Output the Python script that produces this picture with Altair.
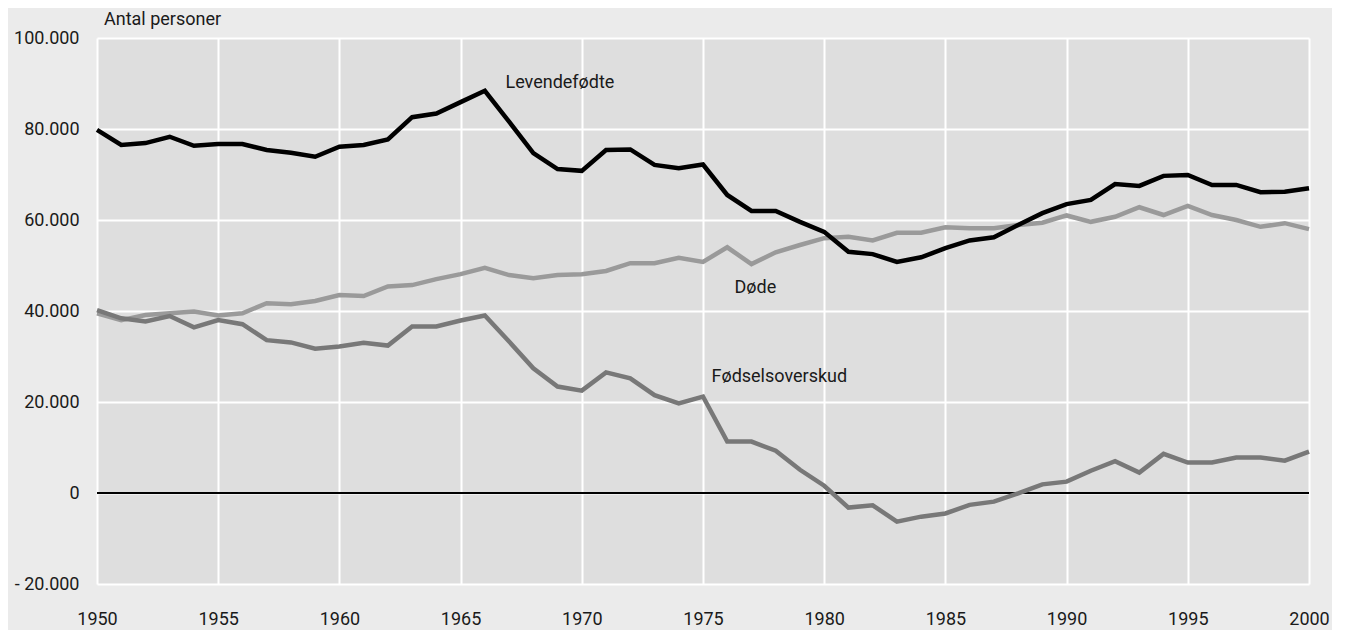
import altair as alt
import pandas as pd

years = list(range(1950, 2001))

levendefodte = [
    79.8, 76.5, 76.9, 78.3, 76.3, 76.7, 76.7, 75.4, 74.8, 73.9,
    76.1, 76.5, 77.7, 82.6, 83.4, 85.9, 88.4, 81.6, 74.7, 71.2,
    70.8, 75.4, 75.5, 72.1, 71.4, 72.2, 65.5, 62.0, 62.0, 59.6,
    57.4, 53.0, 52.5, 50.8, 51.8, 53.8, 55.5, 56.2, 58.9, 61.5,
    63.5, 64.4, 67.9, 67.5, 69.7, 69.9, 67.7, 67.7, 66.1, 66.2,
    67.0,
]
dode = [
    39.5, 38.0, 39.1, 39.5, 39.9, 39.0, 39.5, 41.7, 41.5, 42.2,
    43.5, 43.3, 45.4, 45.7, 47.0, 48.1, 49.5, 47.9, 47.2, 47.9,
    48.1, 48.8, 50.5, 50.5, 51.7, 50.8, 54.0, 50.3, 52.9, 54.5,
    56.0, 56.3, 55.5, 57.2, 57.2, 58.4, 58.2, 58.2, 58.9, 59.4,
    61.0, 59.6, 60.7, 62.8, 61.1, 63.1, 61.1, 60.0, 58.5, 59.3,
    58.0,
]
fodselsoverskud = [
    40.2, 38.4, 37.7, 38.9, 36.4, 38.0, 37.1, 33.6, 33.1, 31.7,
    32.2, 33.0, 32.4, 36.6, 36.6, 37.9, 39.0, 33.3, 27.4, 23.4,
    22.5, 26.5, 25.2, 21.5, 19.7, 21.2, 11.3, 11.3, 9.3, 5.1,
    1.6, -3.2, -2.7, -6.3, -5.2, -4.5, -2.6, -1.9, -0.1, 1.9,
    2.5, 4.9, 7.0, 4.5, 8.6, 6.7, 6.7, 7.8, 7.8, 7.1,
    9.1,
]

label_texts = ["Levendefødte", "Døde", "Fødselsoverskud"]
label_years = [1966.85, 1976.3, 1975.35]
label_values = [90.2, 45.0, 25.6]

y_ticks = [-20000, 0, 20000, 40000, 60000, 80000, 100000]
x_ticks = list(range(1950, 2001, 5))

FONT = "Roboto"

df = pd.DataFrame({
    "year": years * 3,
    "value": [v * 1000 for v in levendefodte + dode + fodselsoverskud],
    "serie": ["Levendefødte"] * 51 + ["Døde"] * 51 + ["Fødselsoverskud"] * 51,
})
lab = pd.DataFrame({
    "year": label_years,
    "value": [v * 1000 for v in label_values],
    "text": label_texts,
})

xscale = alt.Scale(domain=[1950, 2000], nice=False, zero=False)
yscale = alt.Scale(domain=[-20000, 100000], nice=False)

xaxis = alt.Axis(
    values=x_ticks, format="d", title=None, grid=True, gridColor="white",
    gridWidth=2, gridOpacity=1, domain=False, ticks=False, tickSize=0,
    labelPadding=26, labelFont=FONT, labelFontSize=18, labelColor="#1a1a1a",
    labelFlush=False, labelOverlap=False,
)
yaxis = alt.Axis(
    values=y_ticks, title=None, grid=True, gridColor="white", gridWidth=2,
    gridOpacity=1, domain=False, ticks=False, tickSize=0, labelPadding=18,
    labelFont=FONT, labelFontSize=18, labelColor="#1a1a1a",
    labelOverlap=False,
    labelExpr="datum.value == 0 ? '0' : (datum.value < 0 ? '- ' : '') + format(abs(datum.value) / 1000, 'd') + '.000'",
)

base = alt.Chart(df)

axes_layer = base.mark_line(opacity=0).encode(
    x=alt.X("year:Q", scale=xscale, axis=xaxis),
    y=alt.Y("value:Q", scale=yscale, axis=yaxis),
)

zero = alt.Chart(pd.DataFrame({"v": [0]})).mark_rule(color="black", strokeWidth=2).encode(
    y=alt.Y("v:Q", scale=yscale),
)


def series(name, color, width):
    return base.transform_filter(alt.datum.serie == name).mark_line(
        color=color, strokeWidth=width
    ).encode(
        x=alt.X("year:Q", scale=xscale),
        y=alt.Y("value:Q", scale=yscale),
    )


l_dode = series("Døde", "#9a9a9a", 4.5)
l_fods = series("Fødselsoverskud", "#787878", 4.5)
l_lev = series("Levendefødte", "#000000", 4.5)

texts = alt.Chart(lab).mark_text(
    align="left", baseline="middle", font=FONT, fontSize=18, color="#1a1a1a"
).encode(
    x=alt.X("year:Q", scale=xscale),
    y=alt.Y("value:Q", scale=yscale),
    text="text:N",
)

ytitle = alt.Chart(pd.DataFrame({"t": ["Antal personer"]})).mark_text(
    align="left", baseline="middle", font=FONT, fontSize=18, color="#1a1a1a"
).encode(
    x=alt.value(7), y=alt.value(-18), text="t:N"
)

chart = alt.layer(
    axes_layer, zero, l_dode, l_fods, l_lev, texts, ytitle
).properties(
    width=1212, height=546,
    autosize=alt.AutoSizeParams(type="none"),
    padding={"left": 89, "top": 30, "right": 23, "bottom": 46},
    background="#ebebeb",
).configure_view(
    fill="#dedede", stroke="transparent"
)

chart.save("out.html", embed_options={"renderer": "svg", "actions": False})
